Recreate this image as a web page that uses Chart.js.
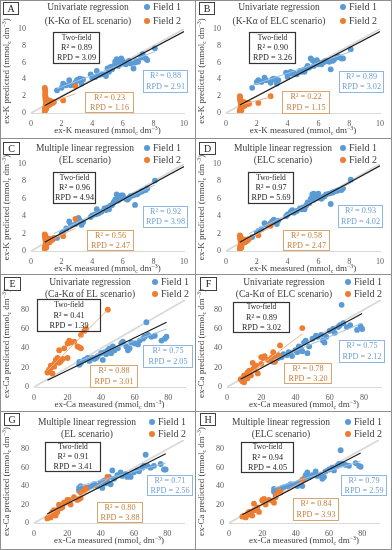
<!DOCTYPE html>
<html>
<head>
<meta charset="utf-8">
<script src="https://cdn.jsdelivr.net/npm/chart.js@4.4.0/dist/chart.umd.min.js"></script>
<style>
  body { margin: 0; background: #fff; }
  #fig { position: relative; width: 392px; height: 550px; overflow: hidden; }
  #fig canvas { position: absolute; }
  .sep { position: absolute; background: #8f8f8f; }
</style>
</head>
<body>
<div id="fig"></div>
<script>
// measured values (same samples in every panel of one nutrient)
const kMeas1 = [1.7,2.0,2.1,2.3,2.5,2.6,2.9,3.0,3.1,3.2,3.3,3.4,3.9,4.0,4.2,4.3,4.4,4.6,4.8,4.9,5.0,5.1,5.2,5.3,5.4,5.5,5.6,5.7,5.7,5.8,5.9,6.0,6.0,6.2,6.3,6.4,6.5,6.7,6.8,6.9,7.0,7.2,7.3,7.5,7.6,8.1];
const kMeas2 = [0.90,0.92,0.95,0.90,0.93,0.96,0.98,1.00,0.91,0.94,0.97,1.02,1.05,1.08,1.10,1.12,1.15,1.18,1.20,1.25,1.30,1.35,1.00,1.03,1.06,0.95,0.92,1.10,1.22,1.40,1.50,2.10,2.90,0.98,1.04,1.14,1.28,0.90,0.96,1.01];
const caMeas1 = [27,27,28,30,32,33,35,36,37,38,40,41,42,43,44,45,46,47,48,50,52,53,55,56,57,58,60,62,63,65,66,67,68,70,72,76,78,79];
const caMeas2 = [8,9,10,10,11,12,12,13,14,15,15,16,17,18,20,20,21,22,24,26,27,28,28,30,31,44];

// predicted values, Field 1 / Field 2 for each panel
const predA1 = [2.7,3.0,3.5,3.3,3.9,3.3,3.6,3.9,4.0,4.1,3.5,4.0,4.6,4.2,4.3,5.0,4.5,4.6,4.6,4.4,5.3,4.9,5.5,5.2,5.6,6.1,6.4,6.3,5.6,5.8,6.5,6.2,5.9,5.8,6.0,6.2,5.9,5.3,6.0,6.2,6.1,6.6,7.0,6.5,6.3,7.7];
const predA2 = [3.0,2.2,1.8,0.3,2.5,1.5,0.8,1.2,0.6,2.0,1.0,1.3,1.1,1.4,1.2,0.9,1.3,1.5,1.1,1.2,1.4,1.3,0.5,1.6,1.0,1.7,2.8,1.1,1.0,1.2,1.3,1.5,3.2,0.9,1.2,1.4,1.1,0.1,0.7,1.0];
const predB1 = [3.0,3.7,3.9,3.7,4.2,3.9,3.6,4.0,4.1,4.0,3.5,3.9,4.8,4.3,4.9,4.7,4.8,4.6,5.0,4.9,5.1,4.9,5.3,5.6,5.4,6.5,6.3,6.2,5.6,6.1,6.3,6.0,5.8,5.8,6.0,6.1,6.2,6.1,5.2,6.2,6.3,6.6,6.7,6.5,6.5,7.6];
const predB2 = [2.0,1.6,1.4,0.2,1.8,1.2,0.6,1.0,0.4,1.5,0.8,1.1,0.9,1.2,1.0,0.8,1.1,1.3,0.9,1.0,1.2,1.1,0.3,1.3,0.9,1.4,1.9,1.0,0.9,1.1,1.1,1.2,2.0,0.7,1.0,1.2,1.0,0.1,0.5,0.8];
const predC1 = [1.5,2.0,2.2,2.6,3.4,3.0,3.1,3.4,3.8,3.5,3.0,3.3,3.9,4.1,4.2,4.8,4.3,4.5,4.9,4.7,5.0,4.8,5.2,5.3,5.6,5.9,6.5,6.3,5.8,6.0,6.4,6.2,6.4,6.0,5.9,6.1,6.3,6.4,5.3,6.5,6.6,6.8,6.9,7.0,7.2,8.1];
const predC2 = [1.9,1.6,1.4,0.3,1.7,1.2,0.7,1.0,0.5,1.5,0.9,1.1,1.0,1.3,1.2,1.0,1.2,1.4,1.1,1.2,1.4,1.3,0.4,1.5,1.0,1.3,1.8,1.1,1.0,1.3,1.5,1.7,3.7,0.8,1.1,1.3,1.2,0.3,0.6,0.9];
const predD1 = [1.6,2.1,2.3,2.5,3.2,3.0,3.2,3.4,3.6,3.3,3.1,3.5,4.0,4.2,4.5,4.7,4.4,4.6,4.9,4.8,5.0,4.8,5.2,5.6,5.5,6.0,6.5,6.6,5.9,6.1,6.4,6.6,6.1,6.0,6.2,6.3,6.5,6.6,5.4,6.7,6.8,6.9,7.0,7.0,7.2,8.2];
const predD2 = [1.8,1.5,1.3,0.3,1.6,1.1,0.6,1.0,0.5,1.4,0.8,1.0,0.9,1.2,1.1,1.0,1.2,1.3,1.0,1.1,1.3,1.2,0.4,1.4,0.9,1.2,1.7,1.0,1.0,1.2,1.4,1.8,2.9,0.7,1.0,1.2,1.1,0.2,0.6,0.9];
const predE1 = [26,23,25,28,30,27,30,29,30,32,35,28,36,34,38,40,35,42,38,40,45,47,42,38,40,46,45,44,48,50,52,67,54,52,53,48,50,52];
const predE2 = [15,18,20,22,14,24,21,28,30,38,25,27,29,40,30,45,48,46,47,42,41,54,40,58,60,80];
const predF1 = [26,29,27,30,31,34,33,36,35,32,38,36,42,40,37,46,48,35,42,50,53,52,54,48,46,52,58,60,56,62,64,85,66,62,64,59,63,60];
const predF2 = [8,6,12,5,10,15,9,17,12,25,18,20,22,14,31,24,30,32,28,30,36,26,30,33,43,61];
const predG1 = [38,35,40,37,38,39,40,42,41,40,44,38,46,43,44,50,42,57,48,52,55,51,53,50,52,50,55,57,56,60,62,74,62,60,62,64,58,58];
const predG2 = [5,7,8,6,12,10,14,8,12,20,16,16,17,22,25,23,25,20,28,25,26,33,27,35,38,50];
const predH1 = [37,34,36,36,38,39,40,40,42,41,42,40,44,43,40,48,52,55,50,52,56,51,52,48,50,56,58,60,57,62,64,79,64,63,62,65,62,61];
const predH2 = [7,8,8,6,10,12,9,12,8,21,14,14,17,12,25,24,26,20,25,24,22,30,28,35,33,47];

// fitted lines [x0, y0, x1, y1]
const fitTwo = [[0.9,0.9,10,9.7],[0.9,0.95,10,9.7],[0.9,1.0,10,9.7],[0.9,1.0,10,9.8],[8,7,79,67],[8,8,79,76],[8,10,79,75],[8,9,79,76]];
const fitF1 = [[1.7,2.9,8.1,7.3],[1.7,3.3,8.1,7.3],[1.5,2.0,8.1,7.6],[1.5,2.0,8.1,7.8],[27,27,79,60],[27,28,79,66],[27,40,79,65],[27,38,79,67]];
const fitF2 = [[0.9,1.0,2.9,2.3],[0.9,0.95,2.9,1.9],[0.9,1.0,2.9,2.6],[0.9,1.0,2.9,2.7],[8,17,44,80],[8,7,44,55],[8,8,44,47],[8,8,44,45]];

// statistics in the boxes
const r2Two  = ['0.89','0.90','0.96','0.97','0.41','0.89','0.91','0.94'];
const rpdTwo = ['3.09','3.26','4.94','5.69','1.39','3.02','3.41','4.05'];
const r2F1   = ['0.88','0.89','0.92','0.93','0.75','0.75','0.71','0.79'];
const rpdF1  = ['2.91','3.02','3.98','4.02','2.05','2.12','2.56','2.59'];
const r2F2   = ['0.23','0.22','0.56','0.58','0.88','0.78','0.80','0.84'];
const rpdF2  = ['1.16','1.15','2.47','2.47','3.01','3.20','3.88','3.93'];

const panelIds = ['A','B','C','D','E','F','G','H'];
const titleLine1 = ['Univariate regression','Univariate regression','Multiple linear regression','Multiple linear regression','Univariate regression','Univariate regression','Multiple linear regression','Multiple linear regression'];
const titleLine2 = ['(K-K\u03b1 of EL scenario)','(K-K\u03b1 of ELC scenario)','(EL scenario)','(ELC scenario)','(Ca-K\u03b1 of EL scenario)','(Ca-K\u03b1 of ELC scenario)','(EL scenario)','(ELC scenario)'];
const seriesNames = ['Field 1','Field 2'];
const kAxis = [0, 10, 2];   // min, max, step
const caAxis = [0, 90, 20];

const predicted = [[predA1,predA2],[predB1,predB2],[predC1,predC2],[predD1,predD2],[predE1,predE2],[predF1,predF2],[predG1,predG2],[predH1,predH2]];

const BLUE = '#5B9BD5', ORANGE = '#ED7D31';
const FONT = '"Liberation Serif", "Times New Roman", serif';

const rowTop = [0, 139, 275, 412];
const rowH = [138, 135, 135, 138];
// panel geometry (pixels inside each panel)
const layout = [
  {plot:[31,29,184,113], lb:[3,2,15,12], tx:88, ty:[7,21], lx:147, two:[53,32,46,31], b1:[143,70,44,22], b2:[85,92,48,20]},
  {plot:[30,29,184,113], lb:[3,2,15,12], tx:83, ty:[7,21], lx:147, two:[53,32,46,31], b1:[143,71,44,21], b2:[86,91,47,22]},
  {plot:[31,25,184,112], lb:[3,3,16,12], tx:85, ty:[9,21], lx:147, two:[53,33,42,31], b1:[143,67,44,21], b2:[87,91,46,20]},
  {plot:[30,25,184,112], lb:[3,3,16,12], tx:87, ty:[9,21], lx:147, two:[52,33,45,31], b1:[142,66,44,22], b2:[87,91,46,20]},
  {plot:[34,25,185,112], lb:[4,2,16,13], tx:90, ty:[7,19], lx:155, two:[37,24,63,32], b1:[143,70,49,22], b2:[90,90,47,22]},
  {plot:[31,25,185,112], lb:[4,2,16,13], tx:88, ty:[7,19], lx:152, two:[37,27,56,30], b1:[143,65,45,22], b2:[88,88,47,20]},
  {plot:[34,28,184,111], lb:[4,1,15,12], tx:87, ty:[10,22], lx:152, two:[45,30,55,29], b1:[147,63,45,20], b2:[97,90,45,20]},
  {plot:[33,28,183,111], lb:[4,1,15,12], tx:85, ty:[10,22], lx:152, two:[45,30,52,30], b1:[145,63,45,20], b2:[97,86,45,22]}
];

function richWidth(ctx, parts, size) {
  let w = 0;
  parts.forEach(p => {
    ctx.font = (p.sub || p.sup ? size * 0.65 : size) + 'px ' + FONT;
    w += ctx.measureText(p.t).width;
  });
  return w;
}
function drawRich(ctx, parts, cx, cy, size) {
  let x = cx - richWidth(ctx, parts, size) / 2;
  ctx.textAlign = 'left';
  ctx.textBaseline = 'middle';
  parts.forEach(p => {
    ctx.font = (p.sub || p.sup ? size * 0.65 : size) + 'px ' + FONT;
    const dy = p.sub ? size * 0.3 : (p.sup ? -size * 0.32 : 0);
    ctx.fillText(p.t, x, cy + dy);
    x += ctx.measureText(p.t).width;
  });
}
function textBox(ctx, r, lines, color, border, lw) {
  ctx.strokeStyle = border;
  ctx.lineWidth = lw;
  ctx.strokeRect(r[0] + 0.5, r[1] + 0.5, r[2], r[3]);
  ctx.fillStyle = color;
  ctx.textAlign = 'center';
  ctx.textBaseline = 'middle';
  lines.forEach((l, k) => {
    ctx.font = l[1] + 'px ' + FONT;
    ctx.fillText(l[0], r[0] + r[2] / 2 + 0.5, r[1] + r[3] * (k + 0.5) / lines.length + 0.5);
  });
}

const decor = {
  id: 'decor',
  afterDraw(chart) {
    const i = chart.config.options.plugins.decor.panel;
    const L = layout[i];
    const ctx = chart.ctx;
    const nut = i < 4 ? 'K' : 'Ca';
    const area = chart.chartArea;
    ctx.save();
    // panel letter
    ctx.strokeStyle = '#404040';
    ctx.lineWidth = 1;
    ctx.strokeRect(L.lb[0] + 0.5, L.lb[1] + 0.5, L.lb[2], L.lb[3]);
    ctx.fillStyle = '#262626';
    ctx.font = '10px ' + FONT;
    ctx.textAlign = 'center';
    ctx.textBaseline = 'middle';
    ctx.fillText(panelIds[i], L.lb[0] + L.lb[2] / 2 + 0.5, L.lb[1] + L.lb[3] / 2 + 1);
    // title
    ctx.fillStyle = '#404040';
    ctx.font = '9.5px ' + FONT;
    ctx.fillText(titleLine1[i], L.tx, L.ty[0]);
    ctx.fillText(titleLine2[i], L.tx, L.ty[1]);
    // legend
    [BLUE, ORANGE].forEach((c, k) => {
      ctx.fillStyle = c;
      ctx.beginPath();
      ctx.arc(L.lx, L.ty[k], 3, 0, Math.PI * 2);
      ctx.fill();
      ctx.fillStyle = '#404040';
      ctx.font = '10px ' + FONT;
      ctx.textAlign = 'left';
      ctx.fillText(seriesNames[k], L.lx + 6, L.ty[k]);
    });
    // statistics boxes
    textBox(ctx, L.two, [['Two-field', 7.5], ['R\u00b2 = ' + r2Two[i], 8.2], ['RPD = ' + rpdTwo[i], 8.2]], '#262626', '#333333', 1.2);
    textBox(ctx, L.b1, [['R\u00b2 = ' + r2F1[i], 8.2], ['RPD = ' + rpdF1[i], 8.2]], '#6FA0D2', '#8DB6E0', 1);
    textBox(ctx, L.b2, [['R\u00b2 = ' + r2F2[i], 8.2], ['RPD = ' + rpdF2[i], 8.2]], '#C4823F', '#D9A46E', 1);
    // axis titles
    ctx.fillStyle = '#404040';
    drawRich(ctx, [{t: 'ex-' + nut + ' measured (mmol'}, {t: 'c', sub: 1}, {t: ' dm'}, {t: '\u22123', sup: 1}, {t: ')'}],
      (area.left + area.right) / 2, area.bottom + 18, 9);
    ctx.translate(i % 2 === 0 ? 7 : 6, (area.top + area.bottom) / 2);
    ctx.rotate(-Math.PI / 2);
    drawRich(ctx, [{t: 'ex-' + nut + ' predicted (mmol'}, {t: 'c', sub: 1}, {t: ' dm'}, {t: '\u22123', sup: 1}, {t: ')'}], 0, 0, 9);
    ctx.restore();
  }
};

function pts(xs, ys) {
  return xs.map((x, k) => ({x: x, y: ys[k]}));
}
function seg(f) {
  return [{x: f[0], y: f[1]}, {x: f[2], y: f[3]}];
}

const fig = document.getElementById('fig');
// frame and separators
[[0,0,392,1],[0,549,392,1],[0,0,1,550],[391,0,1,550],[195,0,1,550],[0,138,392,1],[0,274,392,1],[0,411,392,1]].forEach(r => {
  const d = document.createElement('div');
  d.className = 'sep';
  d.style.left = r[0] + 'px'; d.style.top = r[1] + 'px';
  d.style.width = r[2] + 'px'; d.style.height = r[3] + 'px';
  fig.appendChild(d);
});

panelIds.forEach((id, i) => {
  const row = Math.floor(i / 2), col = i % 2;
  const L = layout[i];
  const W = 195, H = rowH[row];
  const ax = i < 4 ? kAxis : caAxis;
  const meas = i < 4 ? [kMeas1, kMeas2] : [caMeas1, caMeas2];
  const cv = document.createElement('canvas');
  cv.width = W; cv.height = H;
  cv.style.left = (col * 196) + 'px';
  cv.style.top = rowTop[row] + 'px';
  fig.appendChild(cv);

  const tickFont = {family: FONT, size: 8};
  new Chart(cv, {
    type: 'scatter',
    data: {
      datasets: [
        {data: seg(fitTwo[i]), showLine: true, borderColor: '#1a1a1a', borderWidth: 1.2, pointRadius: 0, order: 0},
        {data: seg(fitF1[i]), showLine: true, borderColor: '#9DC3E6', borderWidth: 1, pointRadius: 0, order: 1},
        {data: seg(fitF2[i]), showLine: true, borderColor: '#F4B183', borderWidth: 1, pointRadius: 0, order: 2},
        {label: seriesNames[1], data: pts(meas[1], predicted[i][1]), backgroundColor: ORANGE, borderWidth: 0, pointRadius: 2.9, order: 3},
        {label: seriesNames[0], data: pts(meas[0], predicted[i][0]), backgroundColor: BLUE, borderWidth: 0, pointRadius: 2.9, order: 4},
        {data: [{x: ax[0], y: ax[0]}, {x: ax[1], y: ax[1]}], showLine: true, borderColor: '#D9D9D9', borderWidth: 1.8, pointRadius: 0, order: 5}
      ]
    },
    options: {
      responsive: false,
      animation: false,
      devicePixelRatio: 1,
      layout: {padding: {left: 0, top: L.plot[1], right: W - L.plot[2], bottom: 0}},
      plugins: {legend: {display: false}, tooltip: {enabled: false}, decor: {panel: i}},
      scales: {
        x: {
          type: 'linear', min: ax[0], max: ax[1],
          grid: {display: false, drawTicks: false},
          border: {display: true, color: '#D9D9D9'},
          ticks: {stepSize: ax[2], includeBounds: false, padding: 6, maxRotation: 0, font: tickFont, color: '#595959'},
          afterFit: s => { s.height = H - L.plot[3]; }
        },
        y: {
          type: 'linear', min: ax[0], max: ax[1],
          grid: {display: false, drawTicks: false},
          border: {display: false},
          ticks: {stepSize: ax[2], includeBounds: false, padding: 5, font: tickFont, color: '#595959'},
          afterFit: s => { s.width = L.plot[0]; }
        }
      }
    },
    plugins: [decor]
  });
});
</script>
</body>
</html>
